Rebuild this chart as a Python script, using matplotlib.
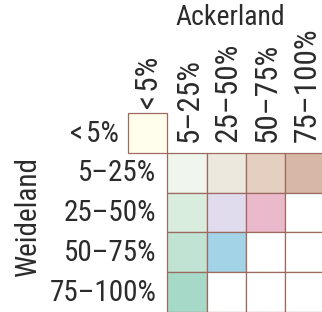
import matplotlib
matplotlib.use("Agg")
import matplotlib.pyplot as plt
from matplotlib.patches import Rectangle

# ---- data ----
col_title = "Ackerland"
row_title = "Weideland"
classes = ["<5%", "5–25%", "25–50%", "50–75%", "75–100%"]
# colour matrix: rows = Weideland class, cols = Ackerland class; None = no cell
cell_colors = [
    ["#FFFEEC", None, None, None, None],
    [None, "#F0F6EE", "#EDE8DE", "#E4CFC1", "#D7B8A6"],
    [None, "#D8EDDD", "#E0DCEE", "#EBB9CC", "#FFFFFF"],
    [None, "#C1E3D3", "#A2D3E7", "#FFFFFF", "#FFFFFF"],
    [None, "#A6D9C8", "#FFFFFF", "#FFFFFF", "#FFFFFF"],
]

FONT = ["Liberation Sans Narrow", "Roboto Condensed", "DejaVu Sans"]
TXT = "#2b2b2b"
EDGE = "#9C6A5E"
HS = "\u200a"


def spaced(s):
    return s.replace("<", "<" + HS)


W, H = 322, 312
fig = plt.figure(figsize=(W / 100, H / 100), dpi=100)
cw, ch = 39.3, 39.8
left_px, top_px = 128, 113
ax = fig.add_axes([left_px / W, 0, (W - left_px) / W, (H - top_px) / H])
ax.set_xlim(0, (W - left_px) / cw)
ax.set_ylim(5, 0)
ax.axis("off")

for r, row in enumerate(cell_colors):
    for c, col in enumerate(row):
        if col is None:
            continue
        ax.add_patch(Rectangle((c, r), 1, 1, facecolor=col, edgecolor=EDGE,
                               linewidth=0.9, clip_on=False))

# column labels
for c, lab in enumerate(classes):
    y0 = -0.1 if c == 0 else 0.74
    ax.text(c + 0.55, y0, spaced(lab), rotation=90, ha="center", va="bottom",
            fontsize=22.5, color=TXT, family=FONT, clip_on=False)

# row labels
for r, lab in enumerate(classes):
    x0 = -0.23 if r == 0 else 0.72
    ax.text(x0, r + 0.52, spaced(lab), ha="right", va="center", fontsize=21,
            color=TXT, family=FONT, clip_on=False)

ax.text(2.6, -2.4, col_title, ha="center", va="center", fontsize=20,
        color=TXT, family=FONT, clip_on=False)
ax.text(-2.55, 2.6, row_title, rotation=90, ha="center", va="center",
        fontsize=21, color=TXT, family=FONT, clip_on=False)

fig.savefig("out.png", dpi=100)
